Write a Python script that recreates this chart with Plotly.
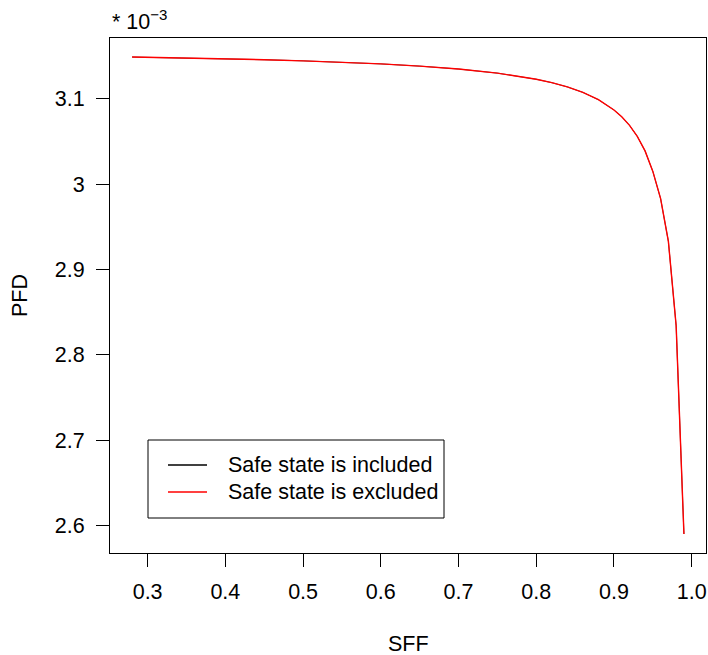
import plotly.graph_objects as go

# SFF (safe failure fraction) sample points and the resulting PFD, in units of 1e-3
sff = [0.28, 0.30, 0.35, 0.40, 0.45, 0.50, 0.55, 0.60, 0.65, 0.70, 0.75, 0.78,
       0.80, 0.82, 0.84, 0.86, 0.88, 0.90, 0.91, 0.92, 0.93, 0.94, 0.95, 0.96,
       0.97, 0.98, 0.99]
pfd_included = [3.1490, 3.1487, 3.1479, 3.1470, 3.1459, 3.1446, 3.1430, 3.1410,
                3.1384, 3.1350, 3.1302, 3.1263, 3.1230, 3.1190, 3.1140, 3.1076,
                3.0990, 3.0870, 3.0790, 3.0690, 3.0560, 3.0390, 3.0150, 2.9830,
                2.9330, 2.8340, 2.5900]
pfd_excluded = list(pfd_included)

x_ticks = [0.3, 0.4, 0.5, 0.6, 0.7, 0.8, 0.9, 1.0]
x_tick_text = ["0.3", "0.4", "0.5", "0.6", "0.7", "0.8", "0.9", "1.0"]
y_ticks = [2.6, 2.7, 2.8, 2.9, 3.0, 3.1]
y_tick_text = ["2.6", "2.7", "2.8", "2.9", "3", "3.1"]

series_names = ["Safe state is included", "Safe state is excluded"]
series_colors = ["black", "red"]

FONT = "Liberation Sans, Arial, Helvetica, sans-serif"
FS = 21.5

# R-style 4% padding around the data range
x_lo, x_hi = min(sff), max(sff)
y_lo, y_hi = min(pfd_included + pfd_excluded), max(pfd_included + pfd_excluded)
xpad = 0.04 * (x_hi - x_lo)
ypad = 0.04 * (y_hi - y_lo)

fig = go.Figure()
fig.add_trace(go.Scatter(x=sff, y=pfd_included, mode="lines", name=series_names[0],
                         line=dict(color=series_colors[0], width=0.7),
                         showlegend=False))
fig.add_trace(go.Scatter(x=sff, y=pfd_excluded, mode="lines", name=series_names[1],
                         line=dict(color=series_colors[1], width=1.4),
                         showlegend=False))

axis_common = dict(showgrid=False, zeroline=False, showline=True, linecolor="black",
                   linewidth=1, mirror=True, ticks="outside", ticklen=13,
                   tickcolor="black", tickwidth=1,
                   tickfont=dict(family=FONT, size=FS, color="black"))

fig.update_xaxes(range=[x_lo - xpad, x_hi + xpad], tickvals=x_ticks,
                 ticktext=x_tick_text, ticklabelstandoff=6, **axis_common)
fig.update_yaxes(range=[y_lo - ypad, y_hi + ypad], tickvals=y_ticks,
                 ticktext=y_tick_text, ticklabelstandoff=7, **axis_common)

W, H = 708, 655
L, R, T, B = 110, 2, 38, 102
pw, ph = W - L - R, H - T - B


def px(xp):
    return (xp - L) / pw


def py(yp):
    return (T + ph - yp) / ph


annotations = [
    dict(text="SFF", x=px(408), y=py(644), xref="paper", yref="paper",
         showarrow=False, xanchor="center", yanchor="middle",
         font=dict(family=FONT, size=FS, color="black")),
    dict(text="PFD", x=px(20), y=py(296), xref="paper", yref="paper",
         showarrow=False, xanchor="center", yanchor="middle", textangle=-90,
         font=dict(family=FONT, size=FS, color="black")),
    dict(text="* 10<sup>\u22123</sup>", x=px(110), y=py(36), xref="paper", yref="paper",
         showarrow=False, xanchor="left", yanchor="bottom",
         font=dict(family=FONT, size=FS, color="black")),
]

# legend box drawn R-style
leg_left, leg_right, leg_top, leg_bottom = 148, 444, 440, 518
row_y = [465, 492]
shapes = [dict(type="rect", xref="paper", yref="paper",
               x0=px(leg_left), x1=px(leg_right), y0=py(leg_bottom), y1=py(leg_top),
               line=dict(color="black", width=1), fillcolor="white", layer="above")]
for name, color, yy in zip(series_names, series_colors, row_y):
    shapes.append(dict(type="line", xref="paper", yref="paper",
                       x0=px(168), x1=px(207), y0=py(yy), y1=py(yy),
                       line=dict(color=color, width=1.3), layer="above"))
    annotations.append(dict(text=name, x=px(226), y=py(yy), xref="paper", yref="paper",
                            showarrow=False, xanchor="left", yanchor="middle",
                            font=dict(family=FONT, size=FS, color="black")))

fig.update_layout(width=W, height=H, margin=dict(l=L, r=R, t=T, b=B, pad=0),
                  plot_bgcolor="white", paper_bgcolor="white",
                  annotations=annotations, shapes=shapes, showlegend=False)

fig.write_html("out.html")
